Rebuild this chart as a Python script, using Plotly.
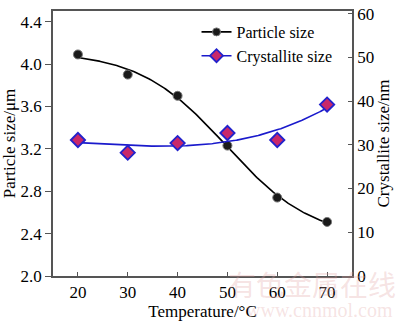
import numpy as np
import plotly.graph_objects as go

temperature = [20, 30, 40, 50, 60, 70]
particle_size = [4.09, 3.90, 3.70, 3.23, 2.74, 2.51]
crystallite_size = [31.1, 28.2, 30.4, 32.7, 31.1, 39.2]

FONT = "Liberation Serif, Times New Roman, serif"
FS = 17


def boltzmann_fit(x, y, xs):
    x = np.asarray(x, float)
    y = np.asarray(y, float)
    best = None
    for x0 in np.linspace(30, 70, 161):
        for dx in np.linspace(2, 30, 113):
            s = 1.0 / (1.0 + np.exp((x - x0) / dx))
            A = np.column_stack([np.ones_like(s), s])
            coef, *_ = np.linalg.lstsq(A, y, rcond=None)
            r = np.sum((A @ coef - y) ** 2)
            if best is None or r < best[0]:
                best = (r, x0, dx, coef)
    _, x0, dx, coef = best
    return coef[0] + coef[1] / (1.0 + np.exp((xs - x0) / dx))


xs = np.linspace(20, 70, 200)
pfit = boltzmann_fit(temperature, particle_size, xs)
cfit = np.polyval(np.polyfit(temperature, crystallite_size, 3), xs)

fig = go.Figure()
fig.add_trace(go.Scatter(x=xs, y=pfit, mode="lines",
                         line=dict(color="black", width=1.6),
                         showlegend=False, hoverinfo="skip"))
fig.add_trace(go.Scatter(x=xs, y=cfit, mode="lines", line=dict(color="#1a1acc", width=1.6),
                         showlegend=False, hoverinfo="skip", yaxis="y2"))
fig.add_trace(go.Scatter(x=temperature, y=particle_size, mode="markers",
                         marker=dict(symbol="circle", size=9, color="#1a1a1a", line=dict(color="#777", width=1)),
                         showlegend=False))
fig.add_trace(go.Scatter(x=temperature, y=crystallite_size, mode="markers", yaxis="y2",
                         marker=dict(symbol="diamond", size=11, color="#c8286a", line=dict(color="#2222cc", width=1.8)),
                         showlegend=False))
# legend entries
fig.add_trace(go.Scatter(x=[None], y=[None], mode="lines+markers", name="Particle size",
                         line=dict(color="black", width=1.6),
                         marker=dict(symbol="circle", size=8, color="#1a1a1a", line=dict(color="#777", width=1))))
fig.add_trace(go.Scatter(x=[None], y=[None], mode="lines+markers", name="Crystallite size",
                         line=dict(color="#1a1acc", width=1.6),
                         marker=dict(symbol="diamond", size=10, color="#c8286a", line=dict(color="#2222cc", width=1.8))))

fig.update_layout(
    width=400, height=321,
    margin=dict(l=52, r=48, t=5, b=44),
    paper_bgcolor="white", plot_bgcolor="white",
    font=dict(family=FONT, size=FS, color="black"),
    showlegend=True,
    legend=dict(x=0.48, y=0.985, xanchor="left", yanchor="top", bgcolor="rgba(0,0,0,0)",
                font=dict(family=FONT, size=16), itemwidth=30, tracegroupgap=0),
    xaxis=dict(range=[15, 75], tickvals=[20, 30, 40, 50, 60, 70], ticks="inside", ticklen=4,
               tickcolor="#555", showline=True, linecolor="#555", linewidth=1.5, mirror=True,
               showgrid=False, zeroline=False, tickfont=dict(size=FS),
               title=dict(text="Temperature/°C", font=dict(family=FONT, size=FS), standoff=2)),
    yaxis=dict(range=[2.0, 4.5], tickvals=[2.0, 2.4, 2.8, 3.2, 3.6, 4.0, 4.4], tickformat=".1f",
               ticks="outside", ticklen=6, tickcolor="#555", tickfont=dict(size=FS),
               showline=True, linecolor="#555", linewidth=1.5, showgrid=False, zeroline=False,
               title=dict(text="Particle size/μm", font=dict(family=FONT, size=FS), standoff=4)),
    yaxis2=dict(range=[0, 60.6], tickvals=[0, 10, 20, 30, 40, 50, 60], overlaying="y", side="right",
                ticks="inside", ticklen=4, tickcolor="#555", tickfont=dict(size=FS),
                showline=True, linecolor="#555", linewidth=1.5, showgrid=False, zeroline=False,
                title=dict(text="Crystallite size/nm", font=dict(family=FONT, size=FS), standoff=4)),
)

fig.add_annotation(text="有色金属在线", xref="paper", yref="paper", x=0.865, y=-0.03,
                   xanchor="center", yanchor="middle",
                   showarrow=False, font=dict(family="Noto Sans CJK SC", size=28, color="rgba(225,160,160,0.3)"))
fig.add_annotation(text="www.cnnmol.com", xref="paper", yref="paper", x=0.89, y=-0.13,
                   xanchor="center", yanchor="middle",
                   showarrow=False, font=dict(family=FONT, size=20, color="rgba(225,160,160,0.3)"))

fig.write_html("out.html")
